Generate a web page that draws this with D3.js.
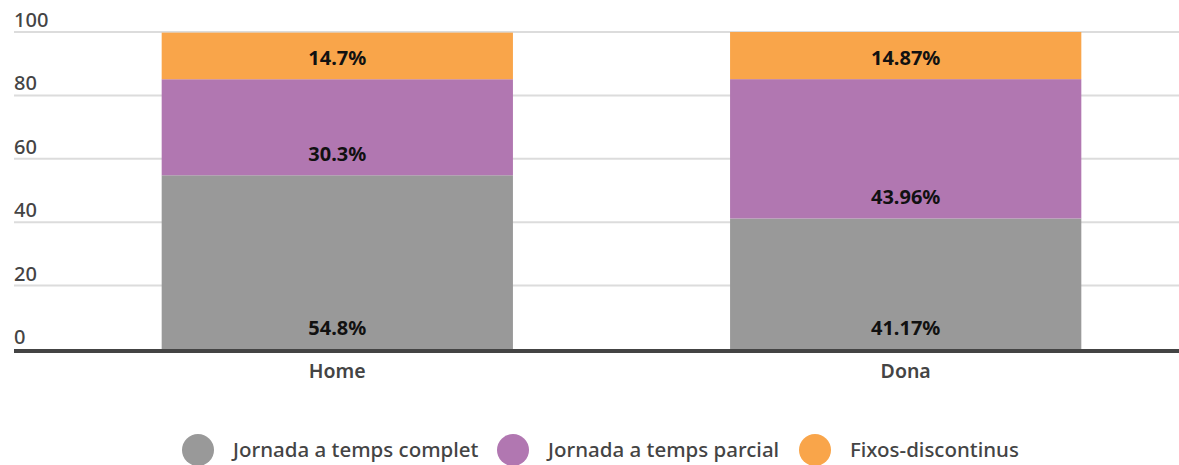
<!DOCTYPE html>
<html>
<head>
<meta charset="utf-8">
<script src="https://cdn.jsdelivr.net/npm/d3@7"></script>
<style>
  html, body { margin: 0; padding: 0; background: #fff; }
  svg { display: block; font-family: "Noto Sans", "Open Sans", sans-serif; }
</style>
</head>
<body>
<svg id="chart" width="1179" height="465"></svg>
<script>
// Distribution of contract types by sex (%)
const categories = ["Home", "Dona"];
const seriesNames = ["Jornada a temps complet", "Jornada a temps parcial", "Fixos-discontinus"];
const completValues = [54.8, 41.17];
const parcialValues = [30.3, 43.96];
const fixosValues = [14.7, 14.87];
const valueLabels = [["54.8%", "41.17%"], ["30.3%", "43.96%"], ["14.7%", "14.87%"]];
const yTicks = [0, 20, 40, 60, 80, 100];
const colors = ["#999999", "#b177b1", "#f9a54a"];

const svg = d3.select("#chart");

const x = d3.scaleBand()
  .domain(categories)
  .range([48, 1195])
  .paddingInner(0.382)
  .paddingOuter(0.2);

const y = d3.scaleLinear().domain([0, 100]).range([349, 32]);

// Gridlines and tick labels
const grid = svg.append("g");
grid.selectAll("line")
  .data(yTicks.filter(d => d > 0))
  .join("line")
  .attr("x1", 14).attr("x2", 1179)
  .attr("y1", d => y(d)).attr("y2", d => y(d))
  .attr("stroke", "#dcdcdc").attr("stroke-width", 2);

grid.selectAll("text")
  .data(yTicks)
  .join("text")
  .attr("x", 14)
  .attr("y", d => y(d) - 5)
  .attr("fill", "#444")
  .attr("font-size", 20)
  .attr("font-weight", 500)
  .text(d => d);

// Stacked data
const rows = categories.map((c, i) => ({
  cat: c,
  complet: completValues[i],
  parcial: parcialValues[i],
  fixos: fixosValues[i]
}));
const keys = ["complet", "parcial", "fixos"];
const stacked = d3.stack().keys(keys)(rows);

const layers = svg.append("g").selectAll("g")
  .data(stacked)
  .join("g")
  .attr("fill", (d, i) => colors[i]);

layers.selectAll("rect")
  .data(d => d)
  .join("rect")
  .attr("x", d => x(d.data.cat))
  .attr("width", x.bandwidth())
  .attr("y", d => y(d[1]))
  .attr("height", d => y(d[0]) - y(d[1]));

// Value labels near the bottom of each segment
const labels = svg.append("g");
stacked.forEach((layer, li) => {
  labels.selectAll(null)
    .data(layer)
    .join("text")
    .attr("x", d => x(d.data.cat) + x.bandwidth() / 2)
    .attr("y", d => y(d[0]) - 14)
    .attr("text-anchor", "middle")
    .attr("font-size", 20)
    .attr("font-weight", "bold")
    .attr("fill", "#111")
    .text((d, i) => valueLabels[li][i]);
});

// Baseline
svg.append("line")
  .attr("x1", 14).attr("x2", 1179)
  .attr("y1", y(0) + 2).attr("y2", y(0) + 2)
  .attr("stroke", "#444").attr("stroke-width", 4);

// Category labels
svg.append("g").selectAll("text")
  .data(categories)
  .join("text")
  .attr("x", d => x(d) + x.bandwidth() / 2)
  .attr("y", 378)
  .attr("text-anchor", "middle")
  .attr("font-size", 19.5)
  .attr("font-weight", 600)
  .attr("fill", "#444")
  .text(d => d);

// Legend
const legendX = [198, 513, 815];
const legend = svg.append("g").selectAll("g")
  .data(seriesNames)
  .join("g")
  .attr("transform", (d, i) => `translate(${legendX[i]},450)`);
legend.append("circle").attr("r", 16).attr("fill", (d, i) => colors[i]);
legend.append("text")
  .attr("x", 35)
  .attr("y", 7)
  .attr("font-size", 20.5)
  .attr("font-weight", 500)
  .attr("fill", "#444")
  .text(d => d);
</script>
</body>
</html>
